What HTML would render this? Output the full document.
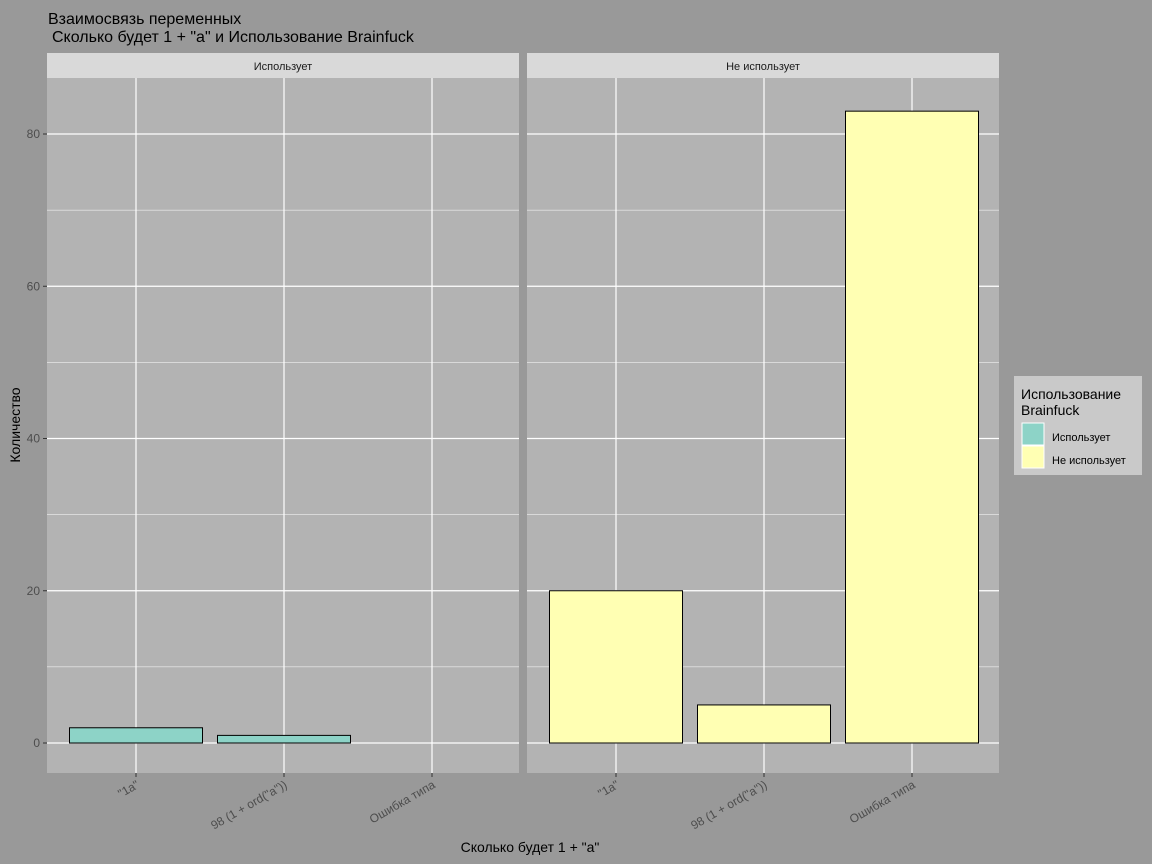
<!DOCTYPE html>
<html><head><meta charset="utf-8"><style>
body{margin:0;background:#999999;}
svg{display:block;font-family:"Liberation Sans","DejaVu Sans",sans-serif;}
</style></head><body>
<svg id="c" width="1152" height="864" viewBox="0 0 1152 864">
<rect x="0" y="0" width="1152" height="864" fill="#999999"/>
<text x="48" y="24" font-size="16" fill="#000">Взаимосвязь переменных</text>
<text x="52" y="42" font-size="16" fill="#000">Сколько будет 1 + "а" и Использование Brainfuck</text>
<text x="530" y="852" font-size="14" text-anchor="middle" fill="#000">Сколько будет 1 + "а"</text>
<text transform="translate(20,425) rotate(-90)" font-size="14" text-anchor="middle" fill="#000">Количество</text>
<g>
<rect x="1014" y="376" width="128" height="99" fill="#c9c9c9"/>
<text x="1021" y="399" font-size="14" fill="#000">Использование</text>
<text x="1021" y="415" font-size="14" fill="#000">Brainfuck</text>
<rect x="1022" y="423" width="22" height="22" fill="#8dd3c7" stroke="#fff"/>
<text x="1052" y="441" font-size="11" fill="#000">Использует</text>
<rect x="1022" y="446" width="22" height="22" fill="#ffffb3" stroke="#fff"/>
<text x="1052" y="464" font-size="11" fill="#000">Не использует</text>
</g>
<g id="plots"></g>
</svg>
<script>
const categories = ['"1а"', '98 (1 + ord("a"))', 'Ошибка типа'];
const panels = ['Использует', 'Не использует'];
const usesValues = [2, 1, 0];
const notUsesValues = [20, 5, 83];
const yTicks = [0, 20, 40, 60, 80];
const fills = ['#8dd3c7', '#ffffb3'];
const NS = 'http://www.w3.org/2000/svg';
const g = document.getElementById('plots');
function mk(tag, attrs){const e=document.createElementNS(NS,tag);for(const k in attrs)e.setAttribute(k,attrs[k]);g.appendChild(e);return e;}
const plotTop=78, plotBottom=773;
function yScale(v){return 743 - v*(743-134)/80;}
const panelX=[47,527], panelW=472;
const step=148;
function xScale(p,i){return panelX[p] + 89 + i*step;}
const series=[usesValues, notUsesValues];
for(let p=0;p<2;p++){
  const px=panelX[p];
  const bg=mk('rect',{x:px,y:plotTop,width:panelW,height:plotBottom-plotTop,fill:'#b3b3b3'});
  
  
  const st=mk('rect',{x:px,y:53,width:panelW,height:25,fill:'#d9d9d9'});
  
  
  const stt=mk('text',{x:px+panelW/2,y:70,'font-size':11,'text-anchor':'middle',fill:'#1a1a1a'});
  stt.textContent=panels[p];
  
  
  for(let k=0;k<yTicks.length-1;k++){
    const y=yScale((yTicks[k]+yTicks[k+1])/2);
    const l=mk('line',{x1:px,x2:px+panelW,y1:y,y2:y,stroke:'#fff','stroke-width':0.6});
    
    
  }
  yTicks.forEach(t=>{
    const y=yScale(t);
    const l=mk('line',{x1:px,x2:px+panelW,y1:y,y2:y,stroke:'#fff','stroke-width':1.2});
    
    
  });
  categories.forEach((c,i)=>{
    const x=xScale(p,i);
    const l=mk('line',{x1:x,x2:x,y1:plotTop,y2:plotBottom,stroke:'#fff','stroke-width':1.2});
    
    
    const tk=mk('line',{x1:x,x2:x,y1:plotBottom,y2:plotBottom+4,stroke:'#333'});
    
    
    const tl=mk('text',{transform:`translate(${x+4},${plotBottom+14}) rotate(-30)`,'font-size':12,'text-anchor':'end',fill:'#4d4d4d'});
    tl.textContent=c;
    
    
    const v=series[p][i];
    if(v>0){
      const b=mk('rect',{x:x-66.5,y:yScale(v),width:133,height:yScale(0)-yScale(v),fill:fills[p],stroke:'#000','stroke-width':1});
      
      
    }
  });
}
yTicks.forEach(t=>{
  const y=yScale(t);
  const tk=mk('line',{x1:43,x2:47,y1:y,y2:y,stroke:'#333'});
  
  
  const tl=mk('text',{x:40,y:y+4,'font-size':12,'text-anchor':'end',fill:'#4d4d4d'});
  tl.textContent=t;
  
  
});
</script>
</body></html>
